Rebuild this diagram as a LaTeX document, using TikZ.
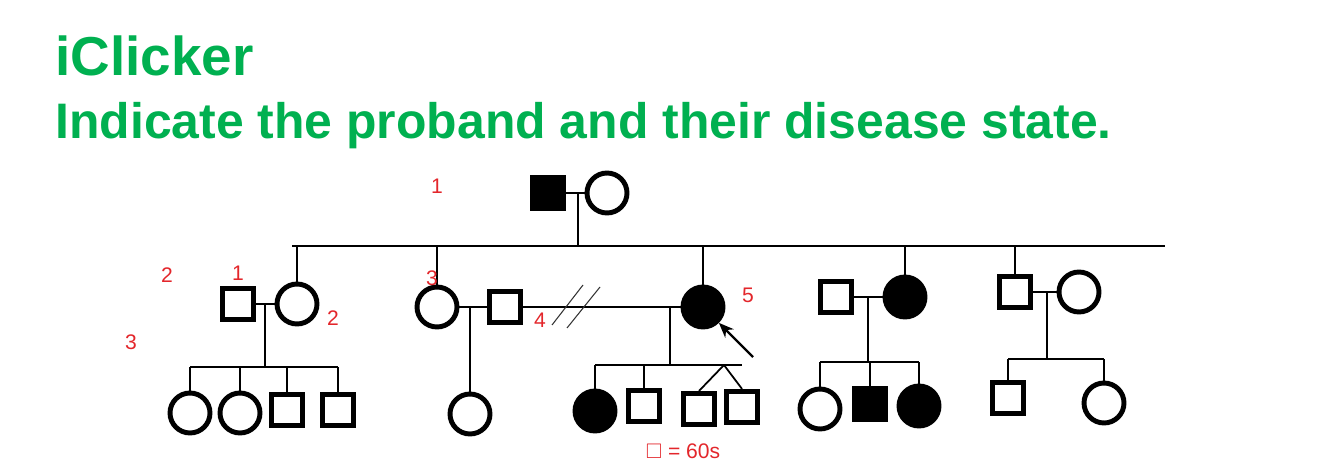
\documentclass[tikz,border=0pt]{standalone}
\usepackage{fontspec}
\setmainfont{Liberation Sans}
\usepackage{amssymb}
\usetikzlibrary{arrows.meta}
\definecolor{ttlgreen}{HTML}{00B050}
\definecolor{notered}{HTML}{E3262B}
\tikzset{
  pedsq/.style   = {rectangle, draw=black, line width=2.9pt,
                     minimum size=0.62cm, inner sep=0pt},
  pedci/.style   = {circle, draw=black, line width=2.8pt,
                     minimum size=0.80cm, inner sep=0pt},
  pedaff/.style  = {fill=black},
  pedln/.style   = {draw=black, line width=1pt},
  pedslash/.style= {draw=black!80, line width=0.6pt},
  pedarr/.style  = {draw=black, line width=1.3pt,
                     -{Stealth[length=3mm, width=2.4mm]}},
  pednote/.style = {text=notered, font=\large, inner sep=0pt},
  pedttl/.style  = {text=ttlgreen, font=\fontsize{28.4}{32}\selectfont\bfseries,
                     anchor=base west, inner sep=0pt},
}
\begin{document}
\begin{tikzpicture}[x=0.02cm, y=-0.02cm]
    \useasboundingbox (0,0) rectangle (1334,462);

    \node[pedttl, font=\fontsize{31.2}{34}\selectfont\bfseries] (ttl) at (55,76) {iClicker};
    \node[pedttl] (qst) at (55,139) {Indicate the proband and their disease state.};

    % generation I
    \node[pedsq, pedaff] (gfa) at (548,193) {};
    \node[pedci] (gmo) at (607,193) {};
    \coordinate (mI) at (578,193);
    \coordinate (sibIa) at (292,246);
    \coordinate (sibIb) at (1165,246);
    \draw[pedln] (gfa.east) -- (gmo.west);
    \draw[pedln] (mI) -- (mI |- sibIa);
    \draw[pedln] (sibIa) -- (sibIb);

    % generation II
    \node[pedsq] (hA) at (238,304) {};
    \node[pedci] (wA) at (297,304) {};
    \node[pedci] (wB) at (437,307) {};
    \node[pedsq] (hB) at (505,307) {};
    \node[pedci, pedaff] (prb) at (703,307) {};
    \node[pedsq] (hC) at (836,297) {};
    \node[pedci, pedaff] (wC) at (905,297) {};
    \node[pedsq] (hD) at (1015,292) {};
    \node[pedci] (wD) at (1079,292) {};

    \foreach \n in {wA, wB, prb, wC, hD}
        \draw[pedln] (\n.north) -- (\n.north |- sibIa);

    \draw[pedln] (hA.east) -- (wA.west);
    \draw[pedln] (wB.east) -- (hB.west);
    \draw[pedln] (hB.east) -- (prb.west);
    \draw[pedln] (hC.east) -- (wC.west);
    \draw[pedln] (hD.east) -- (wD.west);
    \draw[pedslash] (552,325) -- (583,285);
    \draw[pedslash] (567,328) -- (600,287);

    % generation III
    \node[pedci] (kA1) at (190,413) {};
    \node[pedci] (kA2) at (240,413) {};
    \node[pedsq] (kA3) at (287,410) {};
    \node[pedsq] (kA4) at (338,410) {};
    \coordinate (mA) at (265,304);
    \coordinate (sibA) at (190,367);
    \draw[pedln] (mA) -- (mA |- sibA);
    \draw[pedln] (kA1.north |- sibA) -- (kA4.north |- sibA);
    \foreach \n in {kA1, kA2, kA3, kA4}
        \draw[pedln] (\n.north) -- (\n.north |- sibA);

    \node[pedci] (kB1) at (470,414) {};
    \coordinate (mB) at (470,307);
    \draw[pedln] (mB) -- (kB1.north);

    \node[pedci, pedaff] (kP1) at (595,411) {};
    \node[pedsq] (kP2) at (644,406) {};
    \node[pedsq] (kP3) at (699,409) {};
    \node[pedsq] (kP4) at (742,407) {};
    \coordinate (mP) at (670,307);
    \coordinate (sibP) at (595,365);
    \coordinate (twP) at (724,365);
    \draw[pedln] (mP) -- (mP |- sibP);
    \draw[pedln] (sibP) -- (kP4.north |- sibP);
    \foreach \n in {kP1, kP2}
        \draw[pedln] (\n.north) -- (\n.north |- sibP);
    \draw[pedln] (twP) -- (kP3.north);
    \draw[pedln] (twP) -- (kP4.north);
    \coordinate (arP) at (753,357);
    \draw[pedarr] (arP) -- (prb.-45);

    \node[pedci] (kC1) at (820,409) {};
    \node[pedsq, pedaff] (kC2) at (870,404) {};
    \node[pedci, pedaff] (kC3) at (919,406) {};
    \coordinate (mC) at (868,297);
    \coordinate (sibC) at (820,362);
    \draw[pedln] (mC) -- (mC |- sibC);
    \draw[pedln] (kC1.north |- sibC) -- (kC3.north |- sibC);
    \foreach \n in {kC1, kC2, kC3}
        \draw[pedln] (\n.north) -- (\n.north |- sibC);

    \node[pedsq] (kD1) at (1008,398) {};
    \node[pedci] (kD2) at (1104,403) {};
    \coordinate (mD) at (1047,292);
    \coordinate (sibD) at (1008,359);
    \draw[pedln] (mD) -- (mD |- sibD);
    \draw[pedln] (kD1.north |- sibD) -- (kD2.north |- sibD);
    \foreach \n in {kD1, kD2}
        \draw[pedln] (\n.north) -- (\n.north |- sibD);

    % red notes
    \node[pednote] (nI)  at (437,186) {1};
    \node[pednote] (nII) at (167,275) {2};
    \node[pednote] (nA1) at (238,273) {1};
    \node[pednote] (nIII) at (131,342) {3};
    \node[pednote] (nA2) at (333,318) {2};
    \node[pednote] (nB3) at (432,278) {3};
    \node[pednote] (nB4) at (540,320) {4};
    \node[pednote] (nP5) at (748,295) {5};
    \node[pednote] (nkey) at (683,451) {$\square$ = 60s};
\end{tikzpicture}
\end{document}
